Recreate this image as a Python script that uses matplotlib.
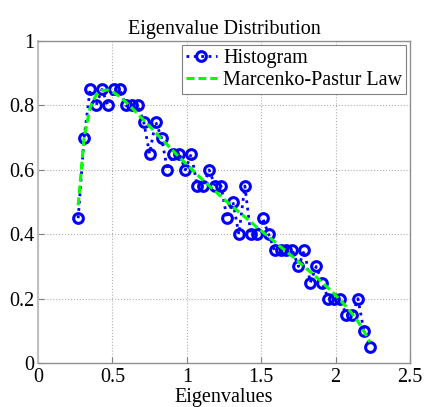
import matplotlib
matplotlib.use('Agg')
import matplotlib.pyplot as plt

# bin centres of the eigenvalue histogram
bin_centers = [0.27, 0.31, 0.35, 0.39, 0.43, 0.47, 0.51, 0.55, 0.59, 0.63,
               0.67, 0.71, 0.75, 0.79, 0.83, 0.87, 0.91, 0.95, 0.99, 1.03,
               1.07, 1.11, 1.15, 1.19, 1.23, 1.27, 1.31, 1.35, 1.39, 1.43,
               1.47, 1.51, 1.55, 1.59, 1.63, 1.67, 1.71, 1.75, 1.79, 1.83,
               1.87, 1.91, 1.95, 1.99, 2.03, 2.07, 2.11, 2.15, 2.19, 2.23]

# normalised histogram heights
hist_vals = [0.45, 0.70, 0.85, 0.80, 0.85, 0.80, 0.85, 0.85, 0.80, 0.80,
             0.80, 0.75, 0.65, 0.75, 0.70, 0.60, 0.65, 0.65, 0.60, 0.65,
             0.55, 0.55, 0.60, 0.55, 0.55, 0.45, 0.50, 0.40, 0.55, 0.40,
             0.40, 0.45, 0.40, 0.35, 0.35, 0.35, 0.35, 0.30, 0.35, 0.25,
             0.30, 0.25, 0.20, 0.20, 0.20, 0.15, 0.15, 0.20, 0.10, 0.05]

# Marcenko-Pastur curve read at the same centres
mp_vals = [0.490, 0.701, 0.793, 0.833, 0.847, 0.848, 0.840, 0.827, 0.811, 0.793,
           0.774, 0.755, 0.735, 0.716, 0.696, 0.677, 0.658, 0.639, 0.621, 0.603,
           0.585, 0.568, 0.551, 0.534, 0.517, 0.501, 0.485, 0.469, 0.454, 0.438,
           0.422, 0.407, 0.392, 0.377, 0.361, 0.346, 0.331, 0.315, 0.299, 0.283,
           0.267, 0.250, 0.233, 0.215, 0.196, 0.176, 0.154, 0.129, 0.099, 0.065]

plt.rcParams['font.family'] = ['Liberation Serif', 'DejaVu Serif']

fig = plt.figure(figsize=(4.24, 4.07), dpi=100)
ax = fig.add_axes([0.0896, 0.108, 0.8774, 0.791])

ax.plot(bin_centers, hist_vals, linestyle=':', color='#0000ff', linewidth=2.0,
        marker='o', markersize=7, markerfacecolor='none', markeredgewidth=2.2,
        markeredgecolor='#0000ff', label='Histogram')
ax.plot(bin_centers, mp_vals, linestyle='--', color='#00ff00', linewidth=2.2,
        dashes=(2.6, 1.3), label='Marcenko-Pastur Law')

ax.set_xlim(0, 2.5)
ax.set_ylim(0, 1)
ax.set_xticks([0, 0.5, 1, 1.5, 2, 2.5])
ax.set_xticklabels(['0', '0.5', '1', '1.5', '2', '2.5'])
ax.set_yticks([0, 0.2, 0.4, 0.6, 0.8, 1])
ax.set_yticklabels(['0', '0.2', '0.4', '0.6', '0.8', '1'])
ax.tick_params(direction='in', labelsize=14.5, length=4, color='#808080')
ax.tick_params(axis='x', pad=3.5)
ax.tick_params(axis='y', pad=2.5)
ax.grid(True, linestyle=':', color='#b0b0b0', linewidth=0.8)
for s in ax.spines.values():
    s.set_color('#909090')
    s.set_linewidth(1.0)
ax.spines['left'].set_color('#c0c0c0')
ax.spines['left'].set_linewidth(1.5)

ax.set_title('Eigenvalue Distribution', fontsize=14.5, pad=5)
ax.set_xlabel('Eigenvalues', fontsize=14.5, labelpad=1)

leg = ax.legend(loc='upper right', fontsize=14.5, handlelength=1.55, handletextpad=0.3,
                borderpad=0.2, labelspacing=0.15, fancybox=False, framealpha=1,
                borderaxespad=0.2)
leg.get_frame().set_edgecolor('#808080')
leg.get_frame().set_linewidth(0.8)

plt.savefig('out.png', dpi=100)
